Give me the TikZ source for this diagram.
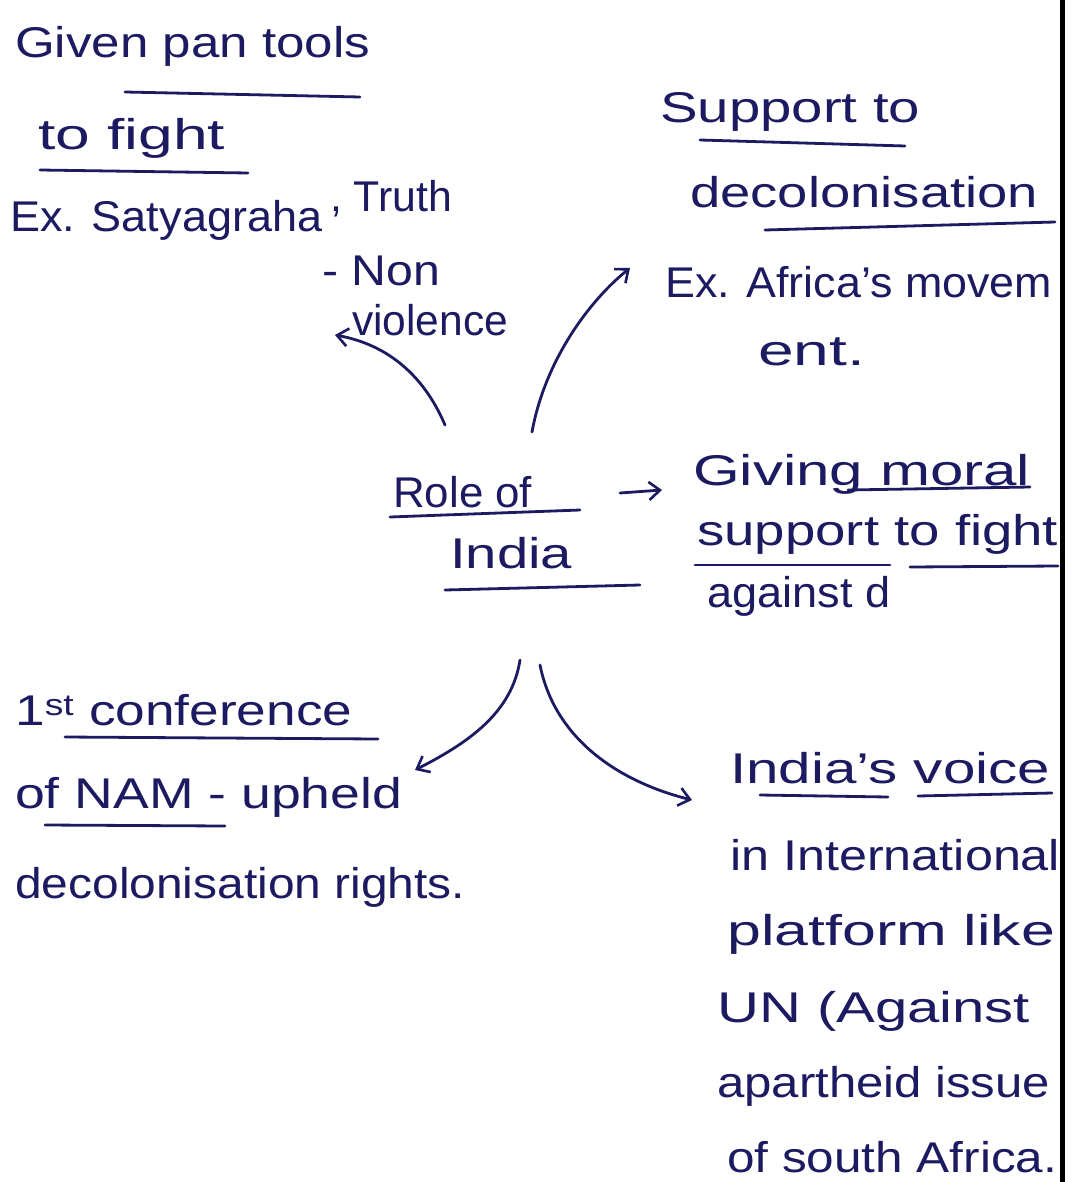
\documentclass[tikz,border=0pt]{standalone}
\usepackage{fontspec}
\setmainfont{Liberation Sans}
\usetikzlibrary{arrows.meta}
\definecolor{ink}{RGB}{28,26,96}
% stretch a line of notes to a given width, keeping its height
\newcommand\penline[2]{\resizebox{#1pt}{\height}{#2}}
\begin{document}
\begin{tikzpicture}[x=1pt,y=-1pt,
  txt/.style={anchor=base west, inner sep=0pt, text=ink,
              font=\fontsize{43}{50}\selectfont},
  rule/.style={draw=ink, line width=2.8pt, line cap=round},
  link/.style={draw=ink, line width=2.8pt, line cap=round,
               -{Straight Barb[length=11pt,width=18pt,line width=2.6pt]}}]
\fill[white] (0,0) rectangle (1071,1182);
\useasboundingbox (0,0) rectangle (1071,1182);

% page edge
\draw[black, line width=5pt] (1062,0) -- (1062,1182);

% --- top left: tools to fight
\node[txt] (given) at (15,58)   {\penline{355}{Given pan tools}};
\node[txt] (fight) at (38,150)  {\penline{187}{to fight}};
\node[txt] (satya) at (10,232)  {\penline{312}{Ex. Satyagraha}};
\node[txt] (truth) at (330,212) {\penline{122}{, Truth}};
\node[txt] (non)   at (322,285) {\penline{118}{- Non}};
\node[txt] (viol)  at (352,335) {\penline{156}{violence}};
\draw[rule] (125,92) -- (360,97);
\draw[rule] (40,170) -- (248,173);

% --- top right: decolonisation
\node[txt] (supp)  at (660,123) {\penline{260}{Support to}};
\node[txt] (decol) at (690,208) {\penline{348}{decolonisation}};
\node[txt] (afr)   at (665,297) {\penline{387}{Ex. Africa's movem}};
\node[txt] (ent)   at (758,365) {\penline{107}{ent.}};
\draw[rule] (700,140) -- (905,146);
\draw[rule] (765,230) -- (1055,222);

% --- centre
\node[txt] (roleA) at (393,507) {\penline{139}{Role of}};
\node[txt] (roleB) at (450,568) {\penline{122}{India}};
\draw[rule] (390,517) -- (580,510);
\draw[rule] (445,590) -- (640,585);

% --- right: moral support
\node[txt] (giv)   at (693,485) {\penline{337}{Giving moral}};
\node[txt] (supt)  at (697,545) {\penline{361}{support to fight}};
\node[txt] (agn)   at (707,607) {\penline{183}{against d}};
\draw[rule] (848,490) -- (1030,487);
\draw[rule] (695,565) -- (890,565);
\draw[rule] (910,567) -- (1058,566);

% --- bottom left: NAM
\node[txt] (conf)  at (15,725)  {\penline{337}{1\textsuperscript{st} conference}};
\node[txt] (nam)   at (15,808)  {\penline{387}{of NAM - upheld}};
\node[txt] (rts)   at (15,898)  {\penline{450}{decolonisation rights.}};
\draw[rule] (65,737) -- (378,739);
\draw[rule] (45,825) -- (225,826);

% --- bottom right: international voice
\node[txt] (voice) at (730,783)  {\penline{320}{India's voice}};
\node[txt] (intl)  at (730,870)  {\penline{330}{in International}};
\node[txt] (plat)  at (727,945)  {\penline{328}{platform like}};
\node[txt] (un)    at (717,1022) {\penline{313}{UN (Against}};
\node[txt] (apar)  at (717,1097) {\penline{333}{apartheid issue}};
\node[txt] (soa)   at (727,1172) {\penline{330}{of south Africa.}};
\draw[rule] (760,795) -- (888,797);
\draw[rule] (918,796) -- (1052,793);

% --- connectors out of the centre
\coordinate (o1) at (445,425);
\coordinate (e1) at (335,335);
\coordinate (o2) at (532,432);
\coordinate (e2) at (630,268);
\coordinate (o3) at (620,493);
\coordinate (e3) at (662,490);
\coordinate (o4) at (520,660);
\coordinate (e4) at (415,770);
\coordinate (o5) at (540,665);
\coordinate (e5) at (692,800);
\draw[link] (o1) .. controls (425,378) and (390,345) .. (e1);
\draw[link] (o2) .. controls (545,360) and (590,300) .. (e2);
\draw[link] (o3) -- (e3);
\draw[link] (o4) .. controls (512,712) and (470,742) .. (e4);
\draw[link] (o5) .. controls (555,740) and (620,782) .. (e5);
\end{tikzpicture}
\end{document}
